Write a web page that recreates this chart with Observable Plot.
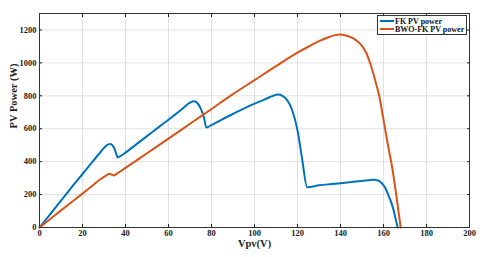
<!DOCTYPE html>
<html>
<head>
<meta charset="utf-8">
<script src="https://cdn.jsdelivr.net/npm/d3@7"></script>
<script src="https://cdn.jsdelivr.net/npm/@observablehq/plot@0.6"></script>
<style>
  html, body { margin: 0; padding: 0; background: #fff; }
  #wrap { position: relative; width: 480px; height: 257px; }
  #legend {
    position: absolute; left: 377px; top: 15px; width: 90px; height: 20px;
    border: 1px solid #333; background: #fff; box-sizing: border-box;
    font: bold 8px "Liberation Serif", serif; color: #111;
  }
  .row { position: absolute; left: 2px; height: 9px; line-height: 9px; white-space: nowrap; }
  .sw { display: inline-block; width: 14px; height: 2px; vertical-align: middle; margin-right: 1px; position: relative; top: -1px; }
</style>
</head>
<body>
<div id="wrap"></div>
<script>
const xTicks = [0, 20, 40, 60, 80, 100, 120, 140, 160, 180, 200];
const yTicks = [0, 200, 400, 600, 800, 1000, 1200];
const seriesNames = ["FK PV power", "BWO-FK PV power"];
const seriesColors = ["#0072BD", "#D95319"];

const fkV = [0,5,10,15,20,25,28,30,31,32,33,34,35,35.8,36.3,38,40,45,50,55,60,64,67,69,70.5,71.5,72.5,73.5,75,76.5,77.6,80,85,90,95,100,104,107,109,111,113,115,117.5,120,122,124.5,130,135,140,145,150,153,155.5,157.5,159.5,161,162.3,163.3,164.5,165.6,166.6];
const fkP = [0,82,163,245,325,405,452,484,497,505,507,498,475,442,425,437,455,505,555,605,655,695,728,750,762,767,765,755,722,668,608,622,657,690,722,752,774,791,802,808,800,777,714,590,430,245,256,263,269,276,283,287,290,286,265,235,195,163,115,55,0];

const bwoV = [0,5,10,15,20,25,28,30,31.5,32.5,33.5,34.5,36,40,50,60,70,80,90,100,110,120,125,130,134,137,140,142,145,147.5,149.5,152,154,156,158,160.2,162,164.1,166,168];
const bwoP = [0,52,104,155,206,258,290,308,320,326,322,316,327,362,451,540,630,720,810,895,980,1062,1098,1132,1154,1167,1172,1168,1155,1135,1111,1060,990,900,800,640,505,360,190,0];

const data = [];
fkV.forEach((v, i) => data.push({v, p: fkP[i], s: seriesNames[0]}));
bwoV.forEach((v, i) => data.push({v, p: bwoP[i], s: seriesNames[1]}));

const font = '"Liberation Serif", serif';

const chart = Plot.plot({
  width: 480,
  height: 257,
  marginLeft: 39,
  marginRight: 11,
  marginTop: 13,
  marginBottom: 30,
  style: { fontFamily: font, fontSize: "8.5px", fontWeight: "bold", background: "#fff", color: "#222" },
  x: { domain: [0, 200] },
  y: { domain: [0, 1300] },
  color: { domain: seriesNames, range: seriesColors },
  marks: [
    Plot.gridX(xTicks, { stroke: "#d9d9d9", strokeOpacity: 1, strokeWidth: 0.8 }),
    Plot.gridY(yTicks, { stroke: "#d9d9d9", strokeOpacity: 1, strokeWidth: 0.8 }),
    Plot.axisX(xTicks, { anchor: "bottom", tickSize: -3, tickPadding: 5, label: null, tickFormat: d => String(d) }),
    Plot.axisX(xTicks, { anchor: "top", tickSize: -3, tickFormat: () => "", label: null }),
    Plot.axisY(yTicks, { anchor: "left", tickSize: -3, tickPadding: 6, label: null, tickFormat: d => String(d) }),
    Plot.axisY(yTicks, { anchor: "right", tickSize: -3, tickFormat: () => "", label: null }),
    Plot.line(data, { x: "v", y: "p", stroke: "s", z: "s", strokeWidth: 2, curve: "monotone-x" }),
    Plot.frame({ stroke: "#333", strokeWidth: 1 }),
    Plot.text(["Vpv(V)"], { frameAnchor: "bottom", dy: 19, fontSize: 10.5, fontWeight: "bold" }),
    Plot.text(["PV Power (W)"], { frameAnchor: "left", dx: -26, dy: 8, rotate: -90, fontSize: 10.5, fontWeight: "bold" })
  ]
});
chart.style.overflow = "visible";
const wrap = document.getElementById("wrap");
wrap.appendChild(chart);

const legend = document.createElement("div");
legend.id = "legend";
seriesNames.forEach((name, i) => {
  const row = document.createElement("div");
  row.className = "row";
  row.style.top = (i * 8.5 + 0.5) + "px";
  const sw = document.createElement("span");
  sw.className = "sw";
  sw.style.background = seriesColors[i];
  row.appendChild(sw);
  row.appendChild(document.createTextNode(name));
  legend.appendChild(row);
});
wrap.appendChild(legend);
</script>
</body>
</html>
